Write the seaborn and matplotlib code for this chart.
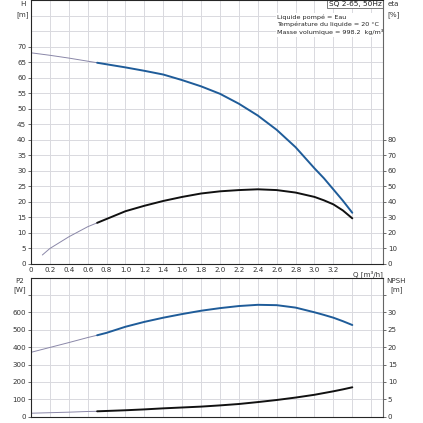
import pandas as pd
import numpy as np
import seaborn as sns
import matplotlib.pyplot as plt

# pump curve SQ 2-65, 50Hz
q = [0, 0.2, 0.4, 0.6, 0.7, 0.8, 1.0, 1.2, 1.4, 1.6, 1.8, 2.0, 2.2, 2.4, 2.6, 2.8, 3.0, 3.1, 3.2, 3.3, 3.4]
head = [68, 67.2, 66.3, 65.3, 64.8, 64.3, 63.3, 62.2, 61.0, 59.2, 57.2, 54.8, 51.6, 47.8, 43.2, 37.6,
        30.8, 27.6, 24.0, 20.4, 16.5]
p2 = [370, 398, 426, 455, 468, 482, 517, 545, 569, 590, 609, 624, 636, 643, 641, 627, 600, 585, 569,
      549, 527]
npsh = [1.0, 1.15, 1.3, 1.5, 1.55, 1.65, 1.85, 2.1, 2.4, 2.65, 2.9, 3.25, 3.65, 4.2, 4.8, 5.5, 6.3,
        6.8, 7.3, 7.85, 8.45]

q_eta = [0.12, 0.2, 0.4, 0.6, 0.7, 0.8, 1.0, 1.2, 1.4, 1.6, 1.8, 2.0, 2.2, 2.4, 2.6, 2.8, 3.0, 3.1, 3.2,
         3.3, 3.4]
eta = [5.8, 10, 17.5, 24, 26.5, 29, 34, 37.5, 40.6, 43.2, 45.4, 46.8, 47.6, 48.1, 47.6, 46, 43.2, 41.0,
       38.4, 34.5, 29.4]

q_ticks = [0, 0.2, 0.4, 0.6, 0.8, 1.0, 1.2, 1.4, 1.6, 1.8, 2.0, 2.2, 2.4, 2.6, 2.8, 3.0, 3.2, 3.4, 3.6]
q_tick_labels = ['0', '0.2', '0.4', '0.6', '0.8', '1.0', '1.2', '1.4', '1.6', '1.8', '2.0', '2.2',
                 '2.4', '2.6', '2.8', '3.0', '3.2', '', '']
q_start = 0.7  # below this the curves are drawn thin

info_lines = ['Liquide pompé = Eau', 'Température du liquide = 20 °C', 'Masse volumique = 998.2  kg/m³']

df = pd.DataFrame({'Q': q, 'H': head, 'P2': p2, 'NPSH': npsh})
df_eta = pd.DataFrame({'Q': q_eta, 'eta': eta})

sns.set_style('white')
plt.rcParams['font.family'] = ['DejaVu Sans']
fs = 5.1
blue = '#1f5c99'
thin_col = '#8a87a8'
grid_col = '#d9d9de'
spine_col = '#666666'
txt_col = '#333333'

fig = plt.figure(figsize=(4.23, 4.23), dpi=100)
ax1 = fig.add_axes([31 / 423, 1 - 264 / 423, 352 / 423, 264 / 423])
ax2 = fig.add_axes([31 / 423, 1 - 416.7 / 423, 352 / 423, (416.7 - 277.5) / 423])
xmax = 3.725


def draw(ax, data, x, y, color):
    thin = data[data[x] <= q_start]
    thick = data[data[x] >= q_start]
    sns.lineplot(data=thin, x=x, y=y, ax=ax, color=thin_col, lw=0.7, sort=False, estimator=None)
    sns.lineplot(data=thick, x=x, y=y, ax=ax, color=color, lw=1.4, sort=False, estimator=None)


def style(ax, ymax, step, ylab_max):
    ax.set_xlim(0, xmax)
    ax.set_ylim(0, ymax)
    ax.set_xticks(q_ticks)
    ax.set_yticks(np.arange(0, ylab_max + 0.01, step))
    ax.set_yticks(np.arange(ylab_max + step, ymax + 0.01, step), minor=True)
    ax.grid(True, which='both', color=grid_col, lw=0.7)
    ax.set_axisbelow(True)
    for s in ax.spines.values():
        s.set_color('#999999')
        s.set_linewidth(0.7)
    ax.spines['left'].set_color(spine_col)
    ax.tick_params(axis='y', which='major', length=2, width=0.5, pad=1.5, colors=txt_col, labelsize=fs)
    ax.tick_params(axis='y', which='minor', length=0)
    ax.tick_params(axis='x', length=0, colors=txt_col, labelsize=fs, pad=2)
    ax.set_xlabel('')
    ax.set_ylabel('')


def style_right(ax, ymax, ticks):
    ax.set_ylim(0, ymax)
    ax.set_yticks(ticks)
    ax.tick_params(axis='y', length=2, width=0.5, pad=1.5, colors=txt_col, labelsize=fs)
    ax.spines['right'].set_color(spine_col)
    ax.set_ylabel('')
    ax.grid(False)


def unit_label(ax, x, y_top, y_bot, name, unit):
    tr = ax.get_yaxis_transform()
    ax.text(x, y_top, name, fontsize=fs, ha='center', va='center', transform=tr, color=txt_col)
    ax.text(x, y_bot, unit, fontsize=fs, ha='center', va='center', transform=tr, color=txt_col)


# top chart: H and eta
draw(ax1, df, 'Q', 'H', blue)
style(ax1, 85, 5, 70)
ax1.set_xticklabels(q_tick_labels)

ax1r = ax1.twinx()
draw(ax1r, df_eta, 'Q', 'eta', '#111111')
style_right(ax1r, 170, list(range(0, 81, 10)))

unit_label(ax1, -0.023, 83.6, 80.3, 'H', '[m]')
unit_label(ax1, 1.03, 83.6, 80.3, 'eta', '[%]')
ax1.text(3.57, -2.1, 'Q [m³/h]', fontsize=fs, ha='center', va='top', color=txt_col)
ax1.text(0.996, 0.997, 'SQ 2-65, 50Hz', fontsize=fs + 0.2, ha='right', va='top', transform=ax1.transAxes,
         bbox=dict(facecolor='white', edgecolor='#666666', lw=0.6, pad=1.1), color='#222222')
ax1.text(2.6, 80.3, '\n'.join(info_lines), fontsize=4.55, ha='left', va='top', color='#222222',
         linespacing=1.4, bbox=dict(facecolor='white', edgecolor='none', pad=0.8))

# bottom chart: P2 and NPSH
draw(ax2, df, 'Q', 'P2', blue)
style(ax2, 800, 100, 700)
ax2.set_xticklabels([])
ax2.set_yticklabels([str(v) if v <= 600 else '' for v in range(0, 701, 100)])

ax2r = ax2.twinx()
draw(ax2r, df, 'Q', 'NPSH', '#111111')
style_right(ax2r, 40, list(range(0, 36, 5)))
ax2r.set_yticklabels([str(v) if v <= 30 else '' for v in range(0, 36, 5)])

unit_label(ax2, -0.031, 780, 733, 'P2', '[W]')
unit_label(ax2, 1.038, 780, 733, 'NPSH', '[m]')

fig.savefig('out.png', dpi=100)
